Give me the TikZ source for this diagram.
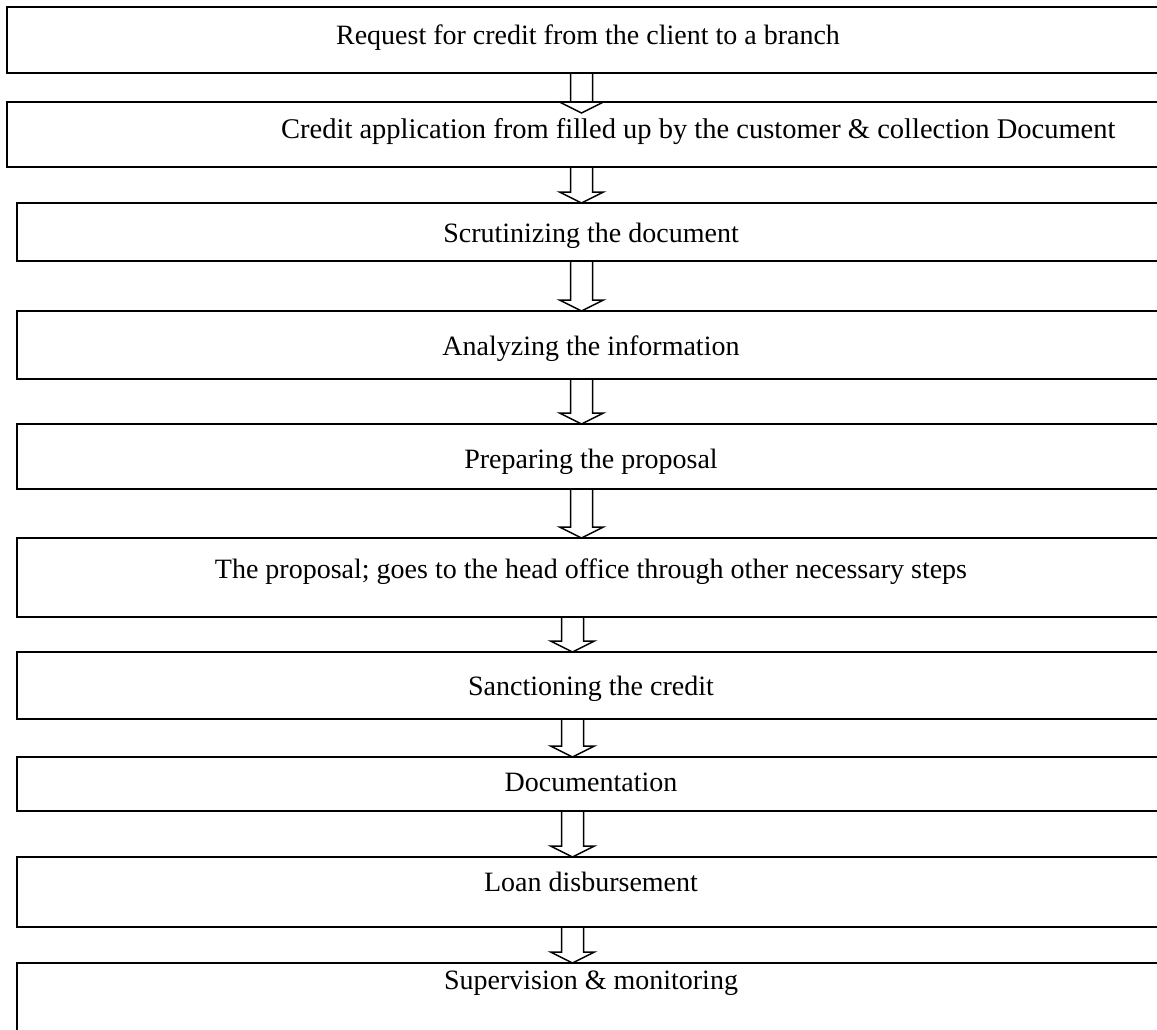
\documentclass[tikz,border=0pt]{standalone}
\usepackage{fontspec}
\setmainfont{Liberation Serif}
\usetikzlibrary{positioning,calc}

\begin{document}
\begin{tikzpicture}[x=1pt,y=-1pt,
                font=\fontsize{28}{33}\selectfont,
                stepbox/.style={rectangle,draw=black,line width=2pt,
                                outer sep=0pt,inner sep=0pt,anchor=north west},
                steptext/.style={anchor=base,inner sep=0pt},
                blockarr/.style={draw=black,line width=1.5pt,line join=miter}]
                \useasboundingbox (0,0) rectangle (1157,1030);
                \clip (0,0) rectangle (1157,1030);
                % boxes (right side runs off the page)
                \node[stepbox,minimum width=1158.5pt,minimum height=66pt] (req)  at (6.5,7)  {};
                \node[stepbox,minimum width=1158.5pt,minimum height=65pt] (app)  at (6.5,102) {};
                \node[stepbox,minimum width=1148pt,minimum height=58pt]   (scr)  at (17,203) {};
                \node[stepbox,minimum width=1148pt,minimum height=68pt]   (ana)  at (17,311) {};
                \node[stepbox,minimum width=1148pt,minimum height=65pt]   (prep) at (17,424) {};
                \node[stepbox,minimum width=1148pt,minimum height=79pt]   (prop) at (17,538) {};
                \node[stepbox,minimum width=1148pt,minimum height=67pt]   (sanc) at (17,652) {};
                \node[stepbox,minimum width=1148pt,minimum height=54pt]   (docu) at (17,757) {};
                \node[stepbox,minimum width=1148pt,minimum height=70pt]   (loan) at (17,857) {};
                \node[stepbox,minimum width=1148pt,minimum height=90pt]   (sup)  at (17,963) {};
                % texts
                \node[steptext] (t-req)  at (588,45)  {Request for credit from the client to a branch};
                \node[steptext,anchor=base west,font=\fontsize{28.5}{33}\selectfont] (t-app) at (281,139)
                     {Credit application from filled up by the customer \& collection Document};
                \node[steptext] (t-scr)  at (591,242) {Scrutinizing the document};
                \node[steptext] (t-ana)  at (591,355) {Analyzing the information};
                \node[steptext] (t-prep) at (591,468) {Preparing the proposal};
                \node[steptext] (t-prop) at (591,578) {The proposal; goes to the head office through other necessary steps};
                \node[steptext] (t-sanc) at (591,695) {Sanctioning the credit};
                \node[steptext] (t-docu) at (591,791) {Documentation};
                \node[steptext] (t-loan) at (591,891) {Loan disbursement};
                \node[steptext] (t-sup)  at (591,989) {Supervision \& monitoring};
                % hollow block arrows
                \coordinate (axhi) at (581.5,0);
                \coordinate (axlo) at (572.5,0);
                \foreach \a/\b/\c/\ov in {req/app/hi/11,app/scr/hi/0,scr/ana/hi/0,
                                          ana/prep/hi/0,prep/prop/hi/0,prop/sanc/lo/0,
                                          sanc/docu/lo/0,docu/loan/lo/0,loan/sup/lo/0}
                  \draw[blockarr] ($(\a.south -| ax\c)+(-11,0)$)
                        -- ($(\b.north -| ax\c)+(-11,\ov-11)$)
                        -- ($(\b.north -| ax\c)+(-22,\ov-11)$)
                        -- ($(\b.north -| ax\c)+(0,\ov)$)
                        -- ($(\b.north -| ax\c)+(22,\ov-11)$)
                        -- ($(\b.north -| ax\c)+(11,\ov-11)$)
                        -- ($(\a.south -| ax\c)+(11,0)$);
\end{tikzpicture}
\end{document}
